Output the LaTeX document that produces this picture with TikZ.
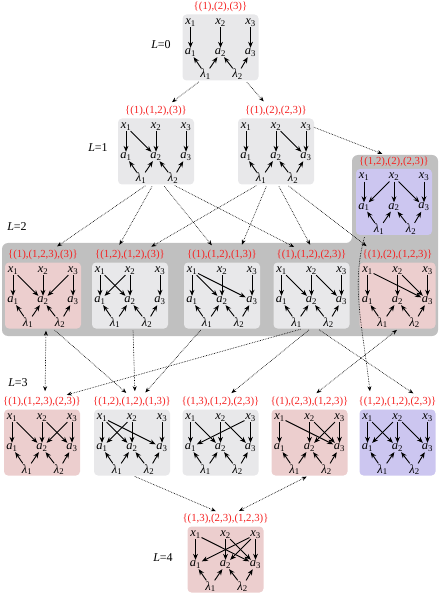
\documentclass[tikz,border=0pt]{standalone}
\usepackage{fontspec}
\setmainfont{Liberation Serif}
\usepackage{xcolor}
\usetikzlibrary{arrows.meta, positioning, calc}

\definecolor{boxgray}{RGB}{232,232,234}
\definecolor{boxpink}{RGB}{236,206,206}
\definecolor{boxblue}{RGB}{204,198,240}
\definecolor{bandgray}{RGB}{192,192,192}
\definecolor{tagred}{RGB}{245,35,35}

\newcommand{\vv}[2]{\textit{#1}\textsubscript{#2}}
% one DAG box: name, centre, fill, tag, parent/child pairs
\newcommand{\dagbox}[5]{%
  \node[dagbg, fill=#3] (#1) at (#2) {};
  \node[dagtag] (#1-t) at ($(#1.north)+(0,-7)$) {#4};
  \foreach \c in {1,2,3} {
    \node[var] (#1-x\c) at ($(#1)+({(\c-2)*30},-25)$) {\vv{x}{\c}};
    \node[var] (#1-a\c) at ($(#1)+({(\c-2)*30},5)$) {\vv{a}{\c}};
  }
  \node[var] (#1-l1) at ($(#1)+(-15,27)$) {\vv{λ}{1}};
  \node[var] (#1-l2) at ($(#1)+(17,27)$) {\vv{λ}{2}};
  \foreach \p/\q in {#5} {\draw[depedge] (#1-x\p) -- (#1-a\q);}
  \draw[depedge] (#1-l1) -- (#1-a1);
  \draw[depedge] (#1-l1) -- (#1-a2);
  \draw[depedge] (#1-l2) -- (#1-a2);
  \draw[depedge] (#1-l2) -- (#1-a3);
}

\begin{document}
\begin{tikzpicture}[x=1pt, y=-1pt,
  dagbg/.style={rectangle, rounded corners=4pt, minimum width=76pt, minimum height=66pt, inner sep=0pt},
  dagtag/.style={text=tagred, font=\fontsize{10.8}{12}\selectfont, inner sep=1pt},
  var/.style={font=\fontsize{12.5}{14}\selectfont, inner sep=0.6pt},
  lvl/.style={font=\fontsize{12}{14}\selectfont},
  depedge/.style={-{Stealth[length=6pt,width=4.8pt]}, line width=0.9pt},
  lnk/.style={densely dotted, line width=0.65pt, -{Stealth[length=5pt,width=4pt]}, shorten >=5pt, shorten <=2pt},
  lnkboth/.style={lnk, {Stealth[length=5pt,width=4pt]}-{Stealth[length=5pt,width=4pt]}}
]
  \useasboundingbox (0,0) rectangle (441,593);
  % grey band of level 2
  \fill[bandgray, rounded corners=6pt] (2,243) -- (352,243) -- (352,155) -- (438,155) -- (438,336) -- (2,336) -- cycle;

  \dagbox{L0}{220.5,47.5}{boxgray}{\{(1),(2),(3)\}}{1/1,2/2,3/3}
  \dagbox{L1a}{156,151.5}{boxgray}{\{(1),(1,2),(3)\}}{1/1,1/2,2/2,3/3}
  \dagbox{L1b}{276,151.5}{boxgray}{\{(1),(2),(2,3)\}}{1/1,2/2,2/3,3/3}
  \dagbox{L2f}{394,202}{boxblue}{\{(1,2),(2),(2,3)\}}{1/1,2/1,2/2,2/3,3/3}
  \dagbox{L2a}{43,295.5}{boxpink}{\{(1),(1,2,3),(3)\}}{1/1,1/2,2/2,3/2,3/3}
  \dagbox{L2b}{130,295.5}{boxgray}{\{(1,2),(1,2),(3)\}}{1/1,2/1,1/2,2/2,3/3}
  \dagbox{L2c}{222,295.5}{boxgray}{\{(1),(1,2),(1,3)\}}{1/1,1/2,2/2,1/3,3/3}
  \dagbox{L2d}{311.5,295.5}{boxgray}{\{(1),(1,2),(2,3)\}}{1/1,1/2,2/2,2/3,3/3}
  \dagbox{L2e}{397.5,295.5}{boxpink}{\{(1),(2),(1,2,3)\}}{1/1,2/2,1/3,2/3,3/3}
  \dagbox{L3a}{42,442.5}{boxpink}{\{(1),(1,2,3),(2,3)\}}{1/1,1/2,2/2,3/2,2/3,3/3}
  \dagbox{L3b}{132,442.5}{boxgray}{\{(1,2),(1,2),(1,3)\}}{1/1,2/1,1/2,2/2,1/3,3/3}
  \dagbox{L3c}{220.5,442.5}{boxgray}{\{(1,3),(1,2),(2,3)\}}{1/1,3/1,1/2,2/2,2/3,3/3}
  \dagbox{L3d}{309.5,442.5}{boxpink}{\{(1),(2,3),(1,2,3)\}}{1/1,2/2,3/2,1/3,2/3,3/3}
  \dagbox{L3e}{397.5,442.5}{boxblue}{\{(1,2),(1,2),(2,3)\}}{1/1,2/1,1/2,2/2,2/3,3/3}
  \dagbox{L4}{225.5,559.5}{boxpink}{\{(1,3),(2,3),(1,2,3)\}}{1/1,3/1,2/2,3/2,1/3,2/3,3/3}

  % level labels
  \node[lvl] (lv0) at (161,45) {\textit{L}=0};
  \node[lvl] (lv1) at (98,148) {\textit{L}=1};
  \node[lvl] (lv2) at (17,227) {\textit{L}=2};
  \node[lvl] (lv3) at (18,383) {\textit{L}=3};
  \node[lvl] (lv4) at (163,558) {\textit{L}=4};

  % L0 -> L1
  \draw[lnk] ([xshift=-20pt]L0.south) -- ([xshift=12pt]L1a-t.north);
  \draw[lnk] ([xshift=25pt]L0.south) -- ([xshift=-9pt]L1b-t.north);
  \draw[lnk] (L1b-x3.east) -- ([xshift=-7pt]L2f-t.north);
  % L1 -> L2
  \draw[lnk] ([xshift=-9pt]L1a.south) -- ([xshift=10pt]L2a-t.north);
  \draw[lnk] ([xshift=-3pt]L1a.south) -- ([xshift=-13pt]L2b-t.north);
  \draw[lnk] ([xshift=7pt]L1a.south) -- ([xshift=-7pt]L2c-t.north);
  \draw[lnk] ([xshift=17pt]L1a.south) -- ([xshift=-13pt]L2d-t.north);
  \draw[lnk] ([xshift=-18pt]L1b.south) -- ([xshift=17pt]L2b-t.north);
  \draw[lnk] ([xshift=-9pt]L1b.south) -- ([xshift=18pt]L2c-t.north);
  \draw[lnk] ([xshift=2pt]L1b.south) -- ([xshift=1pt]L2d-t.north);
  \draw[lnk] ([xshift=11pt]L1b.south) -- ([xshift=-27pt]L2e-t.north);
  % L2 -> L3
  \draw[lnkboth] ([xshift=3pt]L2a.south) -- ([xshift=3pt]L3a-t.north);
  \draw[lnk] ([xshift=10pt]L2a.south) -- ([xshift=-2pt]L3b-t.north);
  \draw[lnk] ([xshift=3pt]L2b.south) -- ([xshift=3pt]L3b-t.north);
  \draw[lnk] ([xshift=-20pt]L2c.south) -- ([xshift=10pt]L3b-t.north);
  \draw[lnk] ([xshift=-9pt]L2d.south) -- ([xshift=20pt]L3a-t.north);
  \draw[lnk] ([xshift=-1pt]L2d.south) -- ([xshift=7pt]L3c-t.north);
  \draw[lnk] ([xshift=6pt]L2d.south) -- ([xshift=20pt]L3e-t.north);
  \draw[lnkboth] ([xshift=1pt]L2e.south) -- ([xshift=3pt]L3d-t.north);
  \draw[lnk] ([xshift=-29pt]L2f.south) .. controls +(-14,50) and +(-8,-70) .. ([xshift=-27pt]L3e-t.north);
  % L3 -> L4
  \draw[lnk] ([xshift=1pt]L3b.south) -- ([xshift=-5pt]L4-t.north);
  \draw[lnkboth] ([xshift=-1pt]L3d.south) -- ([xshift=9pt]L4-t.north);
\end{tikzpicture}
\end{document}
